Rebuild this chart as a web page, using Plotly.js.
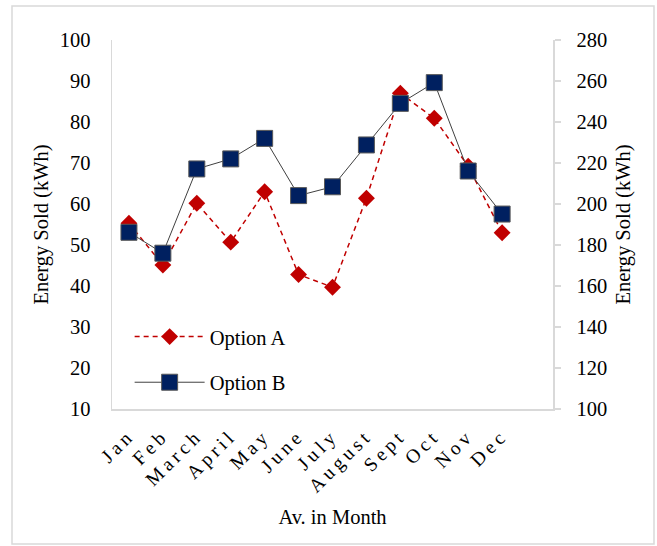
<!DOCTYPE html>
<html>
<head>
<meta charset="utf-8">
<script src="https://cdn.plot.ly/plotly-3.0.1.min.js"></script>
<style>
html,body{margin:0;padding:0;background:#fff;}
#chart{width:657px;height:546px;}
.xtick text{letter-spacing:4px;}
</style>
</head>
<body>
<div id="chart"></div>
<script>
var months = ["Jan","Feb","March","April","May","June","July","August","Sept","Oct","Nov","Dec"];
var optionA = [55.3, 45.1, 60.2, 50.7, 63.0, 42.8, 39.7, 61.4, 87.0, 80.9, 69.2, 53.0];
var optionB = [186.2, 176.0, 217.1, 222.0, 232.0, 204.1, 208.4, 228.8, 249.1, 259.2, 216.1, 195.1];
var leftTicks = [10,20,30,40,50,60,70,80,90,100];
var rightTicks = [100,120,140,160,180,200,220,240,260,280];

var font = "Liberation Serif, Times New Roman, serif";
var gridGray = "#d9d9d9";

var traces = [
  {
    x: months, y: optionA, name: "Option A", type: "scatter", mode: "lines+markers",
    yaxis: "y", legendgroup: "a",
    line: {color: "#c00000", width: 1.5, dash: "5px,4px"},
    marker: {symbol: "diamond", size: 13, color: "#c00000"}
  },
  {
    x: months, y: optionB, name: "Option B", type: "scatter", mode: "lines+markers",
    yaxis: "y2", legendgroup: "b",
    line: {color: "#404040", width: 1},
    marker: {symbol: "square", size: 16, color: "#002060", line: {color: "#595959", width: 1}}
  }
];

var layout = {
  width: 657, height: 546,
  margin: {l: 112, r: 104, t: 40, b: 137},
  paper_bgcolor: "#ffffff", plot_bgcolor: "#ffffff",
  font: {family: font, size: 20, color: "#000"},
  showlegend: true,
  legend: {
    x: 0.04, y: 0.25, xanchor: "left", yanchor: "top",
    bgcolor: "rgba(0,0,0,0)", font: {family: font, size: 20.5, color: "#000"},
    itemwidth: 70, tracegroupgap: 16, traceorder: "grouped"
  },
  xaxis: {
    type: "category", range: [-0.5, 12.5],
    tickangle: -45, tickfont: {family: font, size: 19.5, color: "#000"},
    showgrid: false, zeroline: false,
    showline: true, linecolor: gridGray, linewidth: 1.5,
    ticks: "", ticklabelstandoff: 6,
    title: {text: "Av. in Month", font: {family: font, size: 20.5, color: "#000"}, standoff: 14}
  },
  yaxis: {
    range: [10, 100], tickvals: leftTicks, ticktext: leftTicks.map(String),
    showgrid: false, zeroline: false,
    showline: true, linecolor: gridGray, linewidth: 1.5,
    ticks: "", ticklabelstandoff: 16,
    tickfont: {family: font, size: 20.5, color: "#000"},
    title: {text: "Energy Sold (kWh)", font: {family: font, size: 20.5, color: "#000"}, standoff: 5}
  },
  yaxis2: {
    range: [100, 280], tickvals: rightTicks, ticktext: rightTicks.map(String),
    overlaying: "y", side: "right",
    showgrid: false, zeroline: false,
    showline: true, linecolor: gridGray, linewidth: 1.5,
    ticks: "outside", ticklen: 6, tickcolor: gridGray, tickwidth: 1.5,
    ticklabelstandoff: 12,
    tickfont: {family: font, size: 20.5, color: "#000"},
    title: {text: "Energy Sold (kWh)", font: {family: font, size: 20.5, color: "#000"}, standoff: 9}
  },
  shapes: [
    {type: "rect", xref: "paper", yref: "paper",
     x0: (12 - 112) / 441, x1: (654 - 112) / 441,
     y0: (409 - 544) / 369, y1: 1 + (40 - 6) / 369,
     line: {color: gridGray, width: 1.5}, fillcolor: "rgba(0,0,0,0)", layer: "below"}
  ]
};

Plotly.newPlot("chart", traces, layout, {displayModeBar: false, staticPlot: true});
</script>
</body>
</html>
